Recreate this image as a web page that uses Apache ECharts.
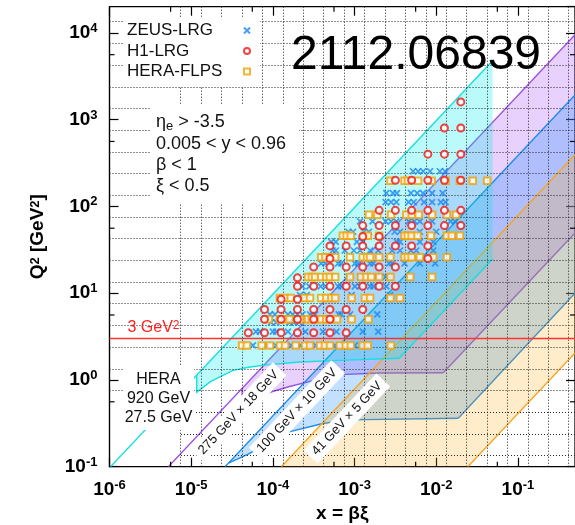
<!DOCTYPE html>
<html>
<head>
<meta charset="utf-8">
<script src="https://cdn.jsdelivr.net/npm/echarts@6/dist/echarts.min.js"></script>
<style>
  html, body { margin: 0; padding: 0; background: #fff; }
  #chart { width: 575px; height: 525px; }
</style>
</head>
<body>
<div id="chart"></div>
<script>
// ---- axis ranges --------------------------------------------------------
const X_MIN = 1e-6, X_MAX = 0.5;
const Q2_MIN = 0.1, Q2_MAX = 2e4;

// minor frame ticks (one per decade) and bin-edge grid (log10 values)
const xMinorTicks = [5.6e-6, 5.6e-5, 5.6e-4, 5.6e-3, 5.6e-2];
const yMinorTicks = [0.56, 5.6, 56, 560, 5600];
const binEdgeLgX = [-5.125, -4.875, -4.625, -4.375, -4.125, -3.875, -3.625, -3.375, -3.125, -2.875,
                    -2.625, -2.375, -2.125, -1.875, -1.625, -1.375, -1.125, -0.875, -0.625, -0.375];
const binEdgeLgQ2 = [-0.875, -0.625, -0.375, -0.125, 0.125, 0.375, 0.625, 0.875, 1.125, 1.375, 1.625,
                     1.875, 2.125, 2.375, 2.625, 2.875, 3.125, 3.375, 3.625, 3.875, 4.125];

// ---- kinematic regions [x, Q2] -----------------------------------------
// HERA 920 GeV x 27.5 GeV
const heraUpper = [[1.03e-6, 0.1], [4.9e-2, 4760]];
const heraLower = [[3.52e-3, 1.78], [4.9e-2, 24.8]];
const heraCut = [[1.17e-5, 1.14], [1.17e-5, 0.72], [1.7e-5, 0.95], [3.25e-5, 1.29], [5.25e-5, 1.41],
                 [8.5e-5, 1.49], [2.15e-4, 1.61], [6.6e-4, 1.68], [3.52e-3, 1.78]];
// 275 GeV x 18 GeV
const eic275Upper = [[5.26e-6, 0.1], [0.5, 9504]];
const eic275Lower = [[1.22e-2, 1.21], [0.5, 49.5]];
const eic275Cut = [[4.2e-5, 0.8], [4.2e-5, 0.55], [6e-5, 0.62], [9.7e-5, 0.73], [1.6e-4, 0.84],
                   [2.7e-4, 0.95], [6.6e-4, 1.15], [2e-3, 1.2], [1.22e-2, 1.21]];
// 100 GeV x 10 GeV
const eic100Upper = [[2.6e-5, 0.1], [0.5, 1920]];
const eic100Lower = [[1.86e-2, 0.361], [0.5, 10]];
const eic100Cut = [[2.9e-5, 0.111], [5e-5, 0.14], [1.0e-4, 0.2], [1.53e-4, 0.25], [4.1e-4, 0.315],
                   [8.3e-4, 0.346], [1.86e-2, 0.361]];
// 41 GeV x 5 GeV
const eic41Upper = [[1.27e-4, 0.1], [0.5, 394]];
const eic41Lower = [[2.44e-2, 0.1], [0.5, 2.05]];

const q2Line = 3;

// ---- measurements --------------------------------------------------------
const zeusQ2 = [2.5, 3.6, 4.6, 5.7, 9.5, 12, 15.4, 22, 31, 39, 51, 67, 112, 142, 254];
const zeusX = [
  [5.7e-5, 8.5e-5, 1.09e-4, 1.67e-4, 2.15e-4, 2.85e-4, 3.35e-4, 5.76e-4, 1.01e-3, 1.26e-3],
  [6.2e-5, 6.95e-5, 1.0e-4, 1.1e-4, 1.53e-4, 2.5e-4, 4.1e-4, 6.0e-4, 1.26e-3, 1.95e-3],
  [9.5e-5, 1.1e-4, 1.6e-4, 1.8e-4, 2.1e-4],
  [9.2e-5, 1.06e-4, 1.53e-4, 1.75e-4, 2.0e-4, 2.3e-4, 2.85e-4, 3.28e-4, 6.4e-4, 6.9e-4, 8.8e-4, 1.9e-3],
  [2.15e-4, 2.6e-4, 9.2e-4, 2.72e-3],
  [2.3e-4, 2.8e-4, 3.85e-4, 4.45e-4, 6.3e-4, 6.9e-4, 1.01e-3, 1.17e-3, 1.55e-3, 1.7e-3, 2.45e-3],
  [2.95e-4, 8.4e-4, 1.17e-3, 1.85e-3, 2.4e-3, 2.7e-3],
  [3.9e-4, 4.4e-4, 6.3e-4, 6.9e-4, 1.01e-3, 1.1e-3, 1.55e-3, 1.7e-3, 2.65e-3, 2.9e-3, 4.1e-3, 6.3e-3, 9.7e-3],
  [5.4e-4, 5.9e-4, 7.6e-4, 9.8e-4, 1.17e-3, 1.55e-3, 1.95e-3, 2.9e-3, 3.6e-3, 4.9e-3, 5.7e-3, 9.2e-3],
  [5.2e-4, 5.9e-4, 1.07e-3, 1.26e-3, 3.3e-3, 3.6e-3, 6.3e-3, 9.2e-3],
  [8.4e-4, 9.6e-4, 1.3e-3, 1.5e-3, 3.1e-3, 3.6e-3, 6.3e-3, 1.0e-2],
  [1.17e-3, 1.66e-3, 2.4e-3, 2.8e-3, 3.25e-3, 4.6e-3, 5.4e-3, 6.3e-3, 8.9e-3, 1.5e-2, 1.7e-2],
  [2.4e-3, 2.8e-3, 3.25e-3, 4.6e-3, 5.3e-3, 7.1e-3, 8.9e-3, 1.14e-2, 1.3e-2],
  [2.45e-3, 2.95e-3, 3.3e-3, 4.9e-3, 5.85e-3, 6.9e-3, 8.9e-3, 1.2e-2],
  [5.2e-3, 6.0e-3, 6.9e-3, 8.4e-3, 1.11e-2, 1.28e-2]
];

const h1Q2 = [3.5, 5, 6.5, 8.5, 12, 15, 20, 25, 35, 45, 60, 90, 200, 400, 800, 1600];
const h1X = [
  [5.0e-5, 7.9e-5, 1.26e-4, 2.0e-4, 3.16e-4, 5.0e-4, 7.9e-4],
  [7.9e-5, 1.26e-4, 2.0e-4, 3.16e-4, 5.0e-4],
  [7.9e-5, 1.26e-4, 2.0e-4, 3.16e-4, 5.0e-4, 7.9e-4, 1.26e-3],
  [1.26e-4, 2.0e-4],
  [2.0e-4, 3.16e-4, 5.0e-4, 7.9e-4, 1.26e-3, 2.0e-3, 3.16e-3],
  [2.0e-4],
  [3.16e-4, 5.0e-4, 7.9e-4, 1.26e-3, 2.0e-3, 3.16e-3],
  [5.0e-4, 7.9e-3],
  [5.0e-4, 7.9e-4, 1.26e-3, 2.0e-3, 3.16e-3, 5.0e-3, 7.9e-3],
  [1.26e-3, 2.0e-3],
  [1.26e-3, 2.0e-3, 3.16e-3, 5.0e-3, 7.9e-3, 1.26e-2, 2.0e-2],
  [2.0e-3, 3.16e-3, 5.0e-3, 7.9e-3, 1.26e-2, 2.0e-2],
  [3.16e-3, 5.0e-3, 7.9e-3, 1.26e-2, 2.0e-2],
  [7.9e-3, 1.26e-2, 2.0e-2],
  [1.26e-2, 2.0e-2],
  [2.0e-2]
];

const flpsQ2 = [2.5, 5, 8.8, 15.4, 26, 46, 80, 197];
const flpsX = [
  [4.2e-5, 4.8e-5, 7.3e-5, 9.2e-5, 1.22e-4, 1.41e-4, 1.9e-4, 2.47e-4, 2.85e-4, 3.77e-4, 4.34e-4, 5.0e-4,
   6.6e-4, 7.8e-4, 9.0e-4, 1.26e-3, 1.45e-3, 2.78e-3],
  [8.9e-5, 1.22e-4, 1.4e-4, 1.6e-4, 2.15e-4, 2.7e-4, 3.0e-4, 3.3e-4, 3.9e-4, 4.5e-4, 5.0e-4, 6.1e-4, 9.2e-4, 1.48e-3],
  [1.22e-4, 1.41e-4, 1.65e-4, 2.45e-4, 2.85e-4, 3.9e-4, 4.5e-4, 5.2e-4, 5.8e-4, 9.2e-4, 1.34e-3, 1.55e-3, 2.75e-3, 3.6e-3],
  [2.7e-4, 3.0e-4, 3.3e-4, 3.9e-4, 4.5e-4, 5.0e-4, 5.8e-4, 8.8e-4, 1.2e-3, 1.4e-3, 1.6e-3, 2.0e-3, 2.75e-3, 4.8e-3, 8.9e-3],
  [3.9e-4, 4.4e-4, 5.0e-4, 5.8e-4, 8.8e-4, 1.26e-3, 1.42e-3, 1.55e-3, 2.0e-3, 2.75e-3, 4.1e-3, 4.5e-3, 5.0e-3, 6.3e-3, 9.2e-3, 1.35e-2],
  [7.2e-4, 8.0e-4, 9.0e-4, 1.34e-3, 1.45e-3, 2.0e-3, 4.1e-3, 4.5e-3, 5.0e-3, 5.9e-3, 8.6e-3, 1.35e-2, 1.55e-2, 1.95e-2],
  [1.5e-3, 1.9e-3, 2.8e-3, 4.3e-3, 5.0e-3, 6.1e-3, 8.9e-3, 1.35e-2, 1.75e-2],
  [2.75e-3, 4.1e-3, 4.5e-3, 6.0e-3, 8.8e-3, 1.3e-2, 1.95e-2, 2.8e-2, 4.2e-2]
];

// ---- helpers ------------------------------------------------------------
const FONT = 'Liberation Sans, Arial, Helvetica, sans-serif';

function rowsToPoints(q2s, xs) {
  const out = [];
  q2s.forEach((q2, i) => xs[i].forEach(x => out.push([x, q2])));
  return out;
}

function powerLabel(v) {
  const lg = Math.log10(v);
  const e = Math.round(lg);
  if (Math.abs(lg - e) > 1e-6) return '';
  return '{b|10}{s|' + e + '}';
}

function regionSeries(fill, stroke, polygon, edges, z) {
  return {
    type: 'custom', coordinateSystem: 'cartesian2d', silent: true, clip: true, z: z,
    data: [[1e-3, 1]],
    renderItem: function (params, api) {
      const children = [{
        type: 'polygon',
        shape: { points: polygon.map(p => api.coord(p)) },
        style: { fill: fill, stroke: null }
      }];
      edges.forEach(e => children.push({
        type: 'polyline',
        shape: { points: e.map(p => api.coord(p)) },
        style: { stroke: stroke, lineWidth: 1.4, fill: null }
      }));
      return { type: 'group', children: children };
    }
  };
}

const heraPolygon = heraCut.concat([[4.9e-2, 24.8], [4.9e-2, 4760]]);
const eic275Polygon = eic275Cut.concat([[0.5, 49.5], [0.5, 9504]]);
const eic100Polygon = eic100Cut.concat([[0.5, 10], [0.5, 1920]]);
const eic41Polygon = [eic41Upper[0], eic41Upper[1], eic41Lower[1], eic41Lower[0]];

// snap a coordinate to the pixel centre so that 1px dotted lines stay crisp
const crisp = v => Math.round(v - 0.5) + 0.5;

// dotted bin-edge grid
const binGridSeries = {
  type: 'custom', coordinateSystem: 'cartesian2d', silent: true, clip: true, z: 3,
  data: [[1e-3, 1]],
  renderItem: function (params, api) {
    const dash = { stroke: '#222', lineWidth: 1, lineDash: [1, 2], fill: null };
    const children = [];
    binEdgeLgX.forEach(lg => {
      const a = api.coord([Math.pow(10, lg), Q2_MIN]);
      const b = api.coord([Math.pow(10, lg), Q2_MAX]);
      const x = crisp(a[0]);
      children.push({ type: 'line', shape: { x1: x, y1: a[1], x2: x, y2: b[1] }, style: dash });
    });
    binEdgeLgQ2.forEach(lg => {
      const xStart = lg < -0.2 ? Math.pow(10, binEdgeLgX[0]) : X_MIN;
      const a = api.coord([xStart, Math.pow(10, lg)]);
      const b = api.coord([X_MAX, Math.pow(10, lg)]);
      const y = crisp(a[1]);
      children.push({ type: 'line', shape: { x1: a[0], y1: y, x2: b[0], y2: y }, style: dash });
    });
    return { type: 'group', children: children };
  }
};

// minor ticks on all four sides
const minorTickSeries = {
  type: 'custom', coordinateSystem: 'cartesian2d', silent: true, clip: false, z: 8,
  data: [[1e-3, 1]],
  renderItem: function (params, api) {
    const cs = params.coordSys;
    const st = { stroke: '#000', lineWidth: 1.2 };
    const children = [];
    xMinorTicks.forEach(v => {
      const px = api.coord([v, Q2_MIN])[0];
      children.push({ type: 'line', shape: { x1: px, y1: cs.y + cs.height, x2: px, y2: cs.y + cs.height - 5 }, style: st });
      children.push({ type: 'line', shape: { x1: px, y1: cs.y, x2: px, y2: cs.y + 5 }, style: st });
    });
    yMinorTicks.forEach(v => {
      const py = api.coord([X_MIN, v])[1];
      children.push({ type: 'line', shape: { x1: cs.x, y1: py, x2: cs.x + 5, y2: py }, style: st });
      children.push({ type: 'line', shape: { x1: cs.x + cs.width, y1: py, x2: cs.x + cs.width - 5, y2: py }, style: st });
    });
    return { type: 'group', children: children };
  }
};

// Q2 = 3 GeV2 reference line
const q2LineSeries = {
  type: 'custom', coordinateSystem: 'cartesian2d', silent: true, clip: true, z: 4,
  data: [[1e-3, q2Line]],
  renderItem: function (params, api) {
    const a = api.coord([X_MIN, q2Line]);
    const b = api.coord([X_MAX, q2Line]);
    return { type: 'line', shape: { x1: a[0], y1: a[1], x2: b[0], y2: b[1] },
             style: { stroke: '#ff3333', lineWidth: 1.5 } };
  }
};

const labelRich = {
  b: { fontSize: 19, fontWeight: 'bold', fontFamily: FONT, color: '#000', lineHeight: 22 },
  s: { fontSize: 13, fontWeight: 'bold', fontFamily: FONT, color: '#000', verticalAlign: 'top', lineHeight: 14 }
};

const axisCommon = {
  type: 'log', logBase: 10,
  axisLine: { show: true, lineStyle: { color: '#000', width: 1.2 } },
  axisTick: { show: true, inside: true, length: 9, lineStyle: { color: '#000', width: 1.2 } },
  splitLine: { show: false }
};

const option = {
  animation: false,
  backgroundColor: '#fff',
  grid: { left: 109.5, right: 0, top: 6.7, bottom: 58.3, containLabel: false, outerBoundsMode: 'none',
          show: true, borderColor: '#000', borderWidth: 1.2, backgroundColor: 'transparent' },
  xAxis: [
    Object.assign({}, axisCommon, {
      min: X_MIN, max: X_MAX, position: 'bottom',
      name: 'x = βξ', nameLocation: 'middle', nameGap: 38,
      nameTextStyle: { fontSize: 19, fontWeight: 'bold', fontFamily: FONT, color: '#000' },
      axisLabel: { show: true, margin: 12, formatter: powerLabel, rich: labelRich, showMaxLabel: false, hideOverlap: false }
    }),
    Object.assign({}, axisCommon, { min: X_MIN, max: X_MAX, position: 'top', axisLabel: { show: false } })
  ],
  yAxis: [
    Object.assign({}, axisCommon, {
      min: Q2_MIN, max: Q2_MAX, position: 'left',
      name: 'Q{s|2} [GeV{s|2}]', nameLocation: 'middle', nameGap: 62, nameRotate: 90,
      nameTextStyle: { fontSize: 19, fontWeight: 'bold', fontFamily: FONT, color: '#000',
        rich: { s: { fontSize: 13, fontWeight: 'bold', fontFamily: FONT, color: '#000', verticalAlign: 'top', lineHeight: 14 } } },
      axisLabel: { show: true, margin: 12, formatter: powerLabel, rich: labelRich, showMaxLabel: false, hideOverlap: false }
    }),
    Object.assign({}, axisCommon, { min: Q2_MIN, max: Q2_MAX, position: 'right', axisLabel: { show: false } })
  ],
  legend: {
    data: ['ZEUS-LRG', 'H1-LRG', 'HERA-FLPS'],
    orient: 'vertical', left: 124, top: 18, align: 'right',
    itemWidth: 6, itemHeight: 6, itemGap: 3.5,
    padding: [4, 9, 6, 3],
    backgroundColor: '#fff',
    selectedMode: false,
    formatter: name => '{n|' + name + '}',
    textStyle: { fontSize: 17, fontFamily: FONT, color: '#111',
      rich: { n: { width: 112, align: 'left', fontSize: 17, fontFamily: FONT, color: '#111', lineHeight: 17 } } }
  },
  series: [
    regionSeries('rgba(165,70,245,0.25)', '#a050e0', eic275Polygon, [eic275Upper, eic275Lower, eic275Cut], 1),
    regionSeries('rgba(30,140,255,0.27)', '#1e8ce8', eic100Polygon, [eic100Upper, eic100Lower, eic100Cut], 1),
    regionSeries('rgba(255,168,20,0.22)', '#f5a623', eic41Polygon, [eic41Upper, eic41Lower], 1),
    regionSeries('rgba(0,235,235,0.27)', '#14e0e0', heraPolygon, [heraUpper, heraLower, heraCut], 1),
    binGridSeries,
    q2LineSeries,
    minorTickSeries,
    {
      name: 'ZEUS-LRG', type: 'scatter', z: 5, silent: true,
      symbol: 'path://M0,0L10,10M0,10L10,0', symbolSize: 6,
      itemStyle: { color: '#1a86f0', borderColor: '#1a86f0', borderWidth: 1.7 },
      data: rowsToPoints(zeusQ2, zeusX)
    },
    {
      name: 'H1-LRG', type: 'scatter', z: 7, silent: true,
      symbol: 'emptyCircle', symbolSize: 7,
      itemStyle: { color: '#f01414', borderColor: '#f01414', borderWidth: 2 },
      data: rowsToPoints(h1Q2, h1X)
    },
    {
      name: 'HERA-FLPS', type: 'scatter', z: 6, silent: true,
      symbol: 'emptyRect', symbolSize: 6.5,
      itemStyle: { color: '#f5a000', borderColor: '#f5a000', borderWidth: 1.4 },
      data: rowsToPoints(flpsQ2, flpsX)
    }
  ],
  graphic: [
    // arXiv number
    { type: 'text', x: 416, y: 56, z: 60,
      style: { text: '2112.06839', fontSize: 48, fontFamily: FONT, fill: '#000', align: 'center', verticalAlign: 'middle' } },
    // selection cuts
    { type: 'rect', z: 50, shape: { x: 150, y: 105, width: 149, height: 98 }, style: { fill: '#fff' } },
    { type: 'text', x: 156, y: 122.5, z: 60,
      style: { text: 'η{sub|e} > -3.5', fontSize: 18, fontFamily: FONT, fill: '#111', verticalAlign: 'middle',
               rich: { sub: { fontSize: 13, fontFamily: FONT, fill: '#111', verticalAlign: 'bottom', padding: [8, 0, 0, 0] } } } },
    { type: 'text', x: 156, y: 143.8, z: 60,
      style: { text: '0.005 < y < 0.96', fontSize: 18, fontFamily: FONT, fill: '#111', verticalAlign: 'middle' } },
    { type: 'text', x: 156, y: 165.1, z: 60,
      style: { text: 'β < 1', fontSize: 18, fontFamily: FONT, fill: '#111', verticalAlign: 'middle' } },
    { type: 'text', x: 156, y: 186.4, z: 60,
      style: { text: 'ξ < 0.5', fontSize: 18, fontFamily: FONT, fill: '#111', verticalAlign: 'middle' } },
    // HERA beam label
    { type: 'rect', z: 50, shape: { x: 124, y: 366, width: 70, height: 64 }, style: { fill: '#fff' } },
    { type: 'text', x: 158.5, y: 380, z: 60,
      style: { text: 'HERA', fontSize: 16, fontFamily: FONT, fill: '#111', align: 'center', verticalAlign: 'middle' } },
    { type: 'text', x: 158.5, y: 398.5, z: 60,
      style: { text: '920 GeV', fontSize: 16, fontFamily: FONT, fill: '#111', align: 'center', verticalAlign: 'middle' } },
    { type: 'text', x: 158.5, y: 418, z: 60,
      style: { text: '27.5 GeV', fontSize: 16, fontFamily: FONT, fill: '#111', align: 'center', verticalAlign: 'middle' } },
    // 3 GeV2 label
    { type: 'text', x: 127.5, y: 328, z: 60,
      style: { text: '3 GeV{sup|2}', fontSize: 16, fontFamily: FONT, fill: '#ff2020', verticalAlign: 'middle',
               rich: { sup: { fontSize: 12, fontFamily: FONT, fill: '#ff2020', verticalAlign: 'top' } } } },
    // beam-energy labels along the y = 0.96 lines
    { type: 'text', x: 238.5, y: 412.5, rotation: 46.7 * Math.PI / 180, z: 60,
      style: { text: '275 GeV × 18 GeV', fontSize: 13, fontFamily: FONT, fill: '#111', align: 'center', verticalAlign: 'middle',
               backgroundColor: '#fff', padding: [3, 5] } },
    { type: 'text', x: 297, y: 410.5, rotation: 46.7 * Math.PI / 180, z: 60,
      style: { text: '100 GeV × 10 GeV', fontSize: 13, fontFamily: FONT, fill: '#111', align: 'center', verticalAlign: 'middle',
               backgroundColor: '#fff', padding: [3, 5] } },
    { type: 'text', x: 347, y: 418.5, rotation: 46.7 * Math.PI / 180, z: 60,
      style: { text: '41 GeV × 5 GeV', fontSize: 13, fontFamily: FONT, fill: '#111', align: 'center', verticalAlign: 'middle',
               backgroundColor: '#fff', padding: [3, 5] } }
  ]
};

const chart = echarts.init(document.getElementById('chart'), null, { renderer: 'canvas' });
chart.setOption(option);
</script>
</body>
</html>
